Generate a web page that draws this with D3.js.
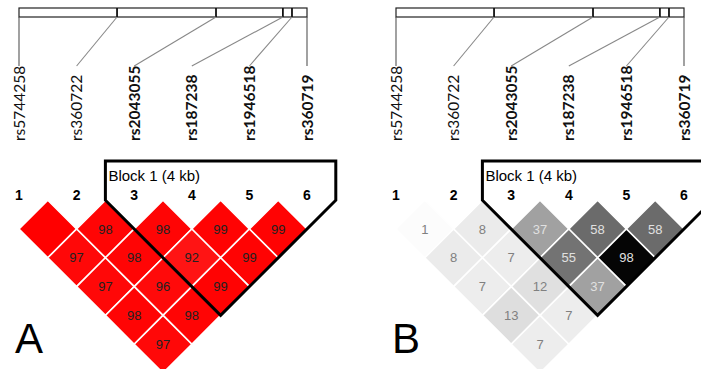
<!DOCTYPE html>
<html>
<head>
<meta charset="utf-8">
<script src="https://cdn.jsdelivr.net/npm/d3@7"></script>
<style>
  body { margin: 0; background: #fff; }
  svg { display: block; }
</style>
</head>
<body>
<svg id="chart" width="701" height="369"></svg>
<script>
// markers in the LD plot
var snps = ["rs5744258", "rs360722", "rs2043055", "rs187238", "rs1946518", "rs360719"];
var boldSnps = ["rs2043055", "rs187238", "rs1946518", "rs360719"];
// relative chromosome positions (bp)
var positions = [0, 4310, 8660, 11600, 12000, 12660];

// pairwise values, one array per marker distance (1 apart, 2 apart, ...)
// D' x100 for panel A (100 is drawn without a label, as Haploview does)
var dPrimeRows = [
  [100, 98, 98, 99, 99],
  [97, 98, 92, 99],
  [97, 96, 99],
  [98, 98],
  [97]
];
// r2 x100 for panel B
var r2Rows = [
  [1, 8, 37, 58, 58],
  [8, 7, 55, 98],
  [7, 12, 37],
  [13, 7],
  [7]
];
var blockFirst = 2, blockLast = 5;   // block 1 = markers 3..6
var blockLabel = "Block 1 (4 kb)";

var svg = d3.select("#chart");

var x = d3.scaleLinear().domain([0, snps.length - 1]).range([19, 307]);
var pos = d3.scaleLinear().domain([0, positions[positions.length - 1]]).range([19, 307]);
var half = (x(1) - x(0)) / 2;
var row1Y = 229;

var dColor = d3.scaleLinear().domain([0, 100]).range(["#ffffff", "#ff0000"]);
var rColor = d3.scaleLinear().domain([0, 100]).range(["#ffffff", "#000000"]);

function cells(rows) {
  var out = [];
  rows.forEach(function(r, k) {
    r.forEach(function(v, i) {
      out.push({ i: i, j: i + k + 1, v: v });
    });
  });
  return out;
}

function cx(d) { return (x(d.i) + x(d.j)) / 2; }
function cy(d) { return row1Y + (d.j - d.i - 1) * half; }

function drawPanel(g, rows, color, textColor, showLabel, letter) {
  // top bar with positions
  g.append("rect")
    .attr("x", pos(0)).attr("y", 8)
    .attr("width", pos(positions[positions.length - 1]) - pos(0)).attr("height", 9)
    .attr("fill", "none").attr("stroke", "#222").attr("stroke-width", 1.2);

  g.selectAll(".tick").data(positions.slice(1, -1)).enter().append("line")
    .attr("x1", function(d) { return pos(d); }).attr("x2", function(d) { return pos(d); })
    .attr("y1", 8).attr("y2", 17)
    .attr("stroke", "#111").attr("stroke-width", 1.8);

  g.selectAll(".conn").data(positions).enter().append("line")
    .attr("x1", function(d) { return pos(d); })
    .attr("y1", 17)
    .attr("x2", function(d, i) { return x(i); })
    .attr("y2", 66)
    .attr("stroke", function(d, i) { return (i == 0 || i == positions.length - 1) ? "#555" : "#888"; })
    .attr("stroke-width", 1.1);

  g.selectAll(".snp").data(snps).enter().append("text")
    .attr("transform", function(d, i) { return "translate(" + x(i) + ",141) rotate(-90)"; })
    .attr("dy", "0.36em")
    .attr("font-family", "Lato, sans-serif")
    .attr("font-size", 15.5)
    .attr("font-weight", function(d) { return boldSnps.indexOf(d) >= 0 ? "bold" : "normal"; })
    .attr("fill", "#111")
    .text(function(d) { return d; });

  g.selectAll(".num").data(snps).enter().append("text")
    .attr("x", function(d, i) { return x(i); })
    .attr("y", 200)
    .attr("text-anchor", "middle")
    .attr("font-family", "Liberation Sans, Arial, sans-serif")
    .attr("font-size", 14)
    .attr("font-weight", "bold")
    .text(function(d, i) { return i + 1; });

  var data = cells(rows);
  g.selectAll(".cell").data(data).enter().append("path")
    .attr("d", function(d) {
      var a = cx(d), b = cy(d);
      return "M" + a + "," + (b - half) + "L" + (a + half) + "," + b +
             "L" + a + "," + (b + half) + "L" + (a - half) + "," + b + "Z";
    })
    .attr("fill", function(d) { return color(d.v); })
    .attr("stroke", "#fff").attr("stroke-width", 1.6);

  g.selectAll(".val").data(data.filter(function(d) { return showLabel(d.v); })).enter().append("text")
    .attr("x", cx).attr("y", cy)
    .attr("dy", "0.36em")
    .attr("text-anchor", "middle")
    .attr("font-family", "Liberation Sans, Arial, sans-serif")
    .attr("font-size", 13)
    .attr("fill", function(d) { return textColor(d.v); })
    .text(function(d) { return d.v; });

  // block outline
  var left = x(blockFirst) - half, right = x(blockLast) + half;
  var sideY = row1Y - half;
  var bottom = { x: (x(blockFirst) + x(blockLast)) / 2, y: row1Y + (blockLast - blockFirst - 1) * half + half };
  g.append("path")
    .attr("d", "M" + left + ",161L" + right + ",161L" + right + "," + sideY +
               "L" + bottom.x + "," + bottom.y + "L" + left + "," + sideY + "Z")
    .attr("fill", "none").attr("stroke", "#000").attr("stroke-width", 3)
    .attr("stroke-linejoin", "miter");

  g.append("text")
    .attr("x", left + 3).attr("y", 181)
    .attr("font-family", "Liberation Sans, Arial, sans-serif")
    .attr("font-size", 15)
    .text(blockLabel);

  g.append("text")
    .attr("x", 15).attr("y", 353)
    .attr("font-family", "Liberation Sans, Arial, sans-serif")
    .attr("font-size", 42)
    .text(letter);
}

drawPanel(svg.append("g"), dPrimeRows, dColor,
  function(v) { return "#222"; },
  function(v) { return v < 100; }, "A");

drawPanel(svg.append("g").attr("transform", "translate(377,0)"), r2Rows, rColor,
  function(v) { return v >= 30 ? "#e0e0e0" : "#808080"; },
  function(v) { return true; }, "B");
</script>
</body>
</html>
